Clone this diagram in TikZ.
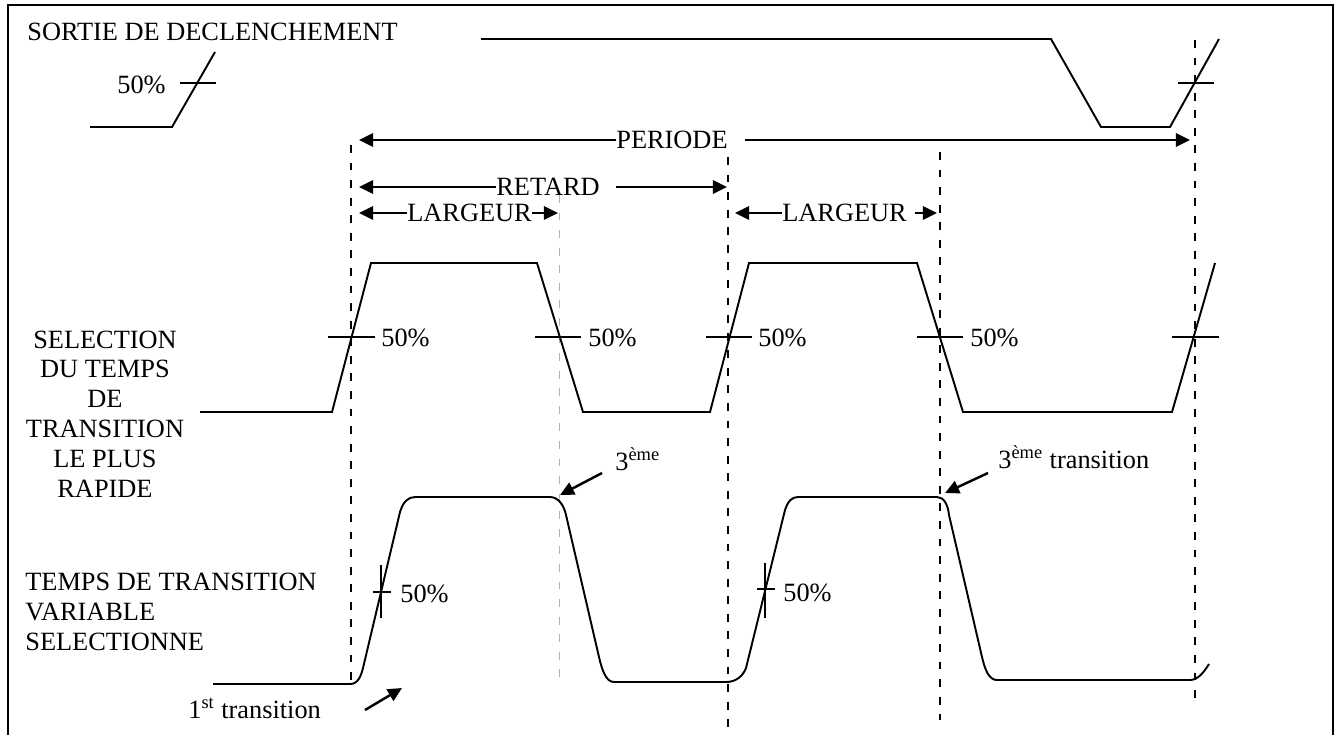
\documentclass[tikz,border=0pt]{standalone}
\usepackage{fontspec}
\setmainfont{Liberation Serif}
\usetikzlibrary{arrows.meta}
\tikzset{
    sig/.style={line width=1.1pt},
    guide/.style={line width=1.1pt, dash pattern=on 4.5pt off 5.5pt},
    faint/.style={line width=0.5pt, gray!60, dash pattern=on 4.5pt off 5.5pt},
    dimarr/.style={line width=1.4pt, -{Triangle[length=8pt,width=7.5pt]}},
    lbl/.style={inner sep=0pt, font=\fontsize{15}{17}\selectfont}
}
\begin{document}
\begin{tikzpicture}[x=0.02cm,y=-0.02cm]
                \useasboundingbox (0,0) rectangle (1338,735);
                \draw[line width=1.1pt] (8,735) -- (8,5) -- (1333,5) -- (1333,735);

                \node[lbl, anchor=base west] (trig) at (27,40) {SORTIE DE DECLENCHEMENT};
                \draw[sig] (90,127) -- (172,127) -- (215,52);
                \draw[sig] (180,83) -- (216,83);
                \node[lbl, anchor=base west] (p0) at (117,93) {50\%};
                \draw[sig] (481,39) -- (1051,39) -- (1101,127) -- (1170,127) -- (1219,39);
                \draw[sig] (1178,83) -- (1214,83);

                \draw[guide] (351,145) -- (351,688);
                \draw[guide] (728,157) -- (728,735);
                \draw[guide] (940,152) -- (940,720);
                \draw[guide] (1195,40) -- (1195,702);
                \draw[faint] (559,195) -- (559,680);

                \node[lbl, anchor=west] (per) at (616,140) {PERIODE};
                \coordinate (perL) at (359,140);
                \coordinate (perR0) at (745,140);
                \coordinate (perR) at (1190,140);
                \draw[dimarr] (per.west) -- (perL);
                \draw[dimarr] (perR0) -- (perR);

                \node[lbl, anchor=west] (ret) at (496,187) {RETARD};
                \coordinate (retL) at (359,187);
                \coordinate (retR0) at (616,187);
                \coordinate (retR) at (727,187);
                \draw[dimarr] (ret.west) -- (retL);
                \draw[dimarr] (retR0) -- (retR);

                \node[lbl, anchor=west] (lg1) at (407,213) {LARGEUR};
                \coordinate (lg1L) at (359,213);
                \coordinate (lg1R) at (558,213);
                \draw[dimarr] (lg1.west) -- (lg1L);
                \draw[dimarr] (lg1.east) -- (lg1R);

                \node[lbl, anchor=west] (lg2) at (782,213) {LARGEUR};
                \coordinate (lg2L) at (735,213);
                \coordinate (lg2R0) at (915,213);
                \coordinate (lg2R) at (937,213);
                \draw[dimarr] (lg2.west) -- (lg2L);
                \draw[dimarr] (lg2R0) -- (lg2R);

                \node[lbl, align=center] (sel) at (105,414) {SELECTION\\DU TEMPS\\DE\\TRANSITION\\LE PLUS\\RAPIDE};
                \draw[sig] (200,412) -- (332,412) -- (371,263) -- (537,263) -- (583,412) -- (710,412) -- (749,263) -- (917,263) -- (963,412) -- (1172,412) -- (1215,263);
                \draw[sig] (328,337) -- (375,337);
                \draw[sig] (535,337) -- (581,337);
                \draw[sig] (706,337) -- (752,337);
                \draw[sig] (917,337) -- (963,337);
                \draw[sig] (1172,337) -- (1219,337);
                \node[lbl, anchor=west] (p1) at (381,338) {50\%};
                \node[lbl, anchor=west] (p2) at (588,338) {50\%};
                \node[lbl, anchor=west] (p3) at (758,338) {50\%};
                \node[lbl, anchor=west] (p4) at (970,338) {50\%};

                \node[lbl, align=left, anchor=west] (var) at (25,612) {TEMPS DE TRANSITION\\VARIABLE\\SELECTIONNE};
                \draw[sig] (213,684) -- (350,684) .. controls (358,684) and (361,676) .. (363,668) -- (400,512) .. controls (403,502) and (408,497) .. (415,497) -- (550,497) .. controls (558,497) and (564,505) .. (566,515) -- (599,657) .. controls (602,670) and (606,682) .. (614,682) -- (726,682) .. controls (736,682) and (743,676) .. (746,668) -- (785,510) .. controls (788,501) and (792,497) .. (798,497) -- (937,497) .. controls (944,497) and (948,505) .. (949,515) -- (982,657) .. controls (985,670) and (989,680) .. (997,680) -- (1190,680) .. controls (1198,680) and (1204,672) .. (1209,664);
                \draw[sig] (381,565) -- (381,618);
                \draw[sig] (373,592) -- (391,592);
                \draw[sig] (765,563) -- (765,618);
                \draw[sig] (757,589) -- (775,589);
                \node[lbl, anchor=west] (q1) at (400,594) {50\%};
                \node[lbl, anchor=west] (q2) at (783,593) {50\%};

                \node[lbl, anchor=base west] (t1) at (188,718) {1\textsuperscript{st} transition};
                \coordinate (t1s) at (365,710);
                \coordinate (t1e) at (402,688);
                \draw[dimarr] (t1s) -- (t1e);

                \node[lbl, anchor=base west] (t3a) at (615,470) {3\textsuperscript{ème}};
                \coordinate (t3as) at (602,473);
                \coordinate (t3ae) at (560,495);
                \draw[dimarr] (t3as) -- (t3ae);

                \node[lbl, anchor=base west] (t3b) at (998,468) {3\textsuperscript{ème} transition};
                \coordinate (t3bs) at (988,473);
                \coordinate (t3be) at (945,493);
                \draw[dimarr] (t3bs) -- (t3be);
\end{tikzpicture}
\end{document}
